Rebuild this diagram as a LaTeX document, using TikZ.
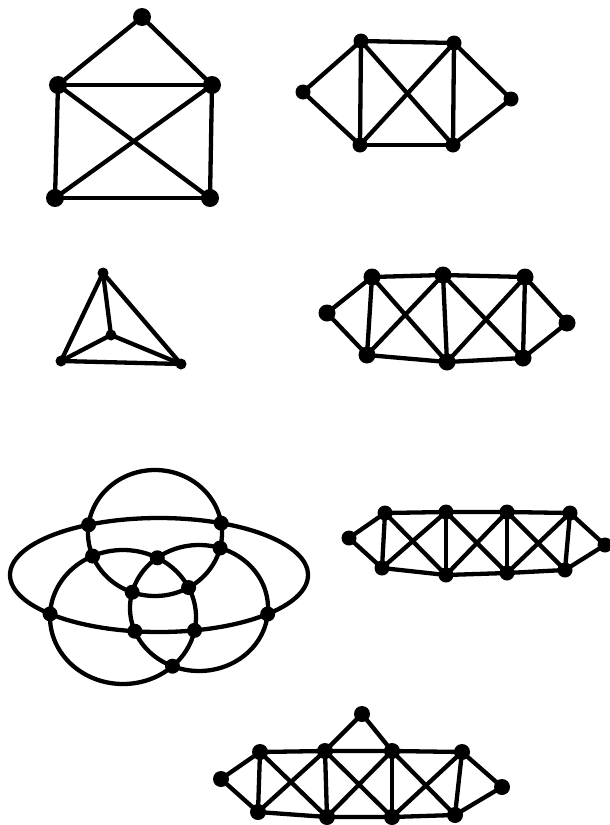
\documentclass[tikz,border=0pt]{standalone}
\usetikzlibrary{intersections}

\tikzset{
  vtx/.style={circle, fill, inner sep=0pt, minimum size=#1},
  vtx/.default=15pt
}

\begin{document}
\begin{tikzpicture}[x=1pt, y=-1pt, line width=4.3pt, line cap=round, line join=round]
    \useasboundingbox (0,0) rectangle (610,825);

    % House
    \node[vtx=18pt] (a-t)  at (142,17)  {};
    \node[vtx=18pt] (a-ul) at (58,85)   {};
    \node[vtx=18pt] (a-ur) at (212,85)  {};
    \node[vtx=18pt] (a-ll) at (55,198)  {};
    \node[vtx=18pt] (a-lr) at (210,198) {};
    \foreach \a/\b in {t/ul, t/ur, ul/ur, ul/ll, ur/lr, ll/lr, ul/lr, ur/ll}
        \draw (a-\a.center) -- (a-\b.center);

    % Two triangles around a square
    \node[vtx] (b-l)  at (303,92)  {};
    \node[vtx] (b-ul) at (361,41)  {};
    \node[vtx] (b-ur) at (454,43)  {};
    \node[vtx] (b-ll) at (360,145) {};
    \node[vtx] (b-lr) at (453,145) {};
    \node[vtx] (b-r)  at (511,99)  {};
    \foreach \a/\b in {l/ul, l/ll, ul/ur, ul/ll, ul/lr, ur/ll, ur/lr, ll/lr, ur/r, lr/r}
        \draw (b-\a.center) -- (b-\b.center);

    % Tetrahedron
    \node[vtx=11pt] (c-t) at (103,273) {};
    \node[vtx=11pt] (c-m) at (111,335) {};
    \node[vtx=11pt] (c-l) at (61,361)  {};
    \node[vtx=11pt] (c-r) at (181,364) {};
    \foreach \a/\b in {t/m, t/l, t/r, m/l, m/r, l/r}
        \draw (c-\a.center) -- (c-\b.center);

    % Two squares
    \node[vtx=17pt] (d-l)  at (327,313) {};
    \node[vtx=17pt] (d-u1) at (372,277) {};
    \node[vtx=17pt] (d-u2) at (443,275) {};
    \node[vtx=17pt] (d-u3) at (525,277) {};
    \node[vtx=17pt] (d-r)  at (567,323) {};
    \node[vtx=17pt] (d-l1) at (367,355) {};
    \node[vtx=17pt] (d-l2) at (447,362) {};
    \node[vtx=17pt] (d-l3) at (523,358) {};
    \foreach \a/\b in {l/u1, l/l1, u3/r, l3/r}
        \draw (d-\a.center) -- (d-\b.center);
    \foreach \i/\j in {1/2, 2/3}
        \draw (d-u\i.center) -- (d-u\j.center) (d-l\i.center) -- (d-l\j.center)
              (d-u\i.center) -- (d-l\j.center) (d-l\i.center) -- (d-u\j.center);
    \foreach \i in {1,2,3}
        \draw (d-u\i.center) -- (d-l\i.center);

    % Three squares
    \node[vtx] (e-l)  at (349,538) {};
    \node[vtx] (e-u1) at (385,513) {};
    \node[vtx] (e-u2) at (446,512) {};
    \node[vtx] (e-u3) at (507,512) {};
    \node[vtx] (e-u4) at (570,513) {};
    \node[vtx] (e-r)  at (605,545) {};
    \node[vtx] (e-l1) at (382,568) {};
    \node[vtx] (e-l2) at (446,575) {};
    \node[vtx] (e-l3) at (507,573) {};
    \node[vtx] (e-l4) at (565,570) {};
    \foreach \a/\b in {l/u1, l/l1, u4/r, l4/r}
        \draw (e-\a.center) -- (e-\b.center);
    \foreach \i/\j in {1/2, 2/3, 3/4}
        \draw (e-u\i.center) -- (e-u\j.center) (e-l\i.center) -- (e-l\j.center)
              (e-u\i.center) -- (e-l\j.center) (e-l\i.center) -- (e-u\j.center);
    \foreach \i in {1,...,4}
        \draw (e-u\i.center) -- (e-l\i.center);

    % Circles and ellipse
    \draw[name path=ell] (159,575) ellipse [x radius=149pt, y radius=57pt];
    \draw[name path=top] (155,533) ellipse [x radius=67pt, y radius=63pt];
    \draw[name path=lft] (123,617) ellipse [x radius=73pt, y radius=67pt];
    \draw[name path=rgt] (199,608) ellipse [x radius=69pt, y radius=63pt];
    \path[name intersections={of=ell and top, by={p1,p2}}];
    \path[name intersections={of=ell and lft, by={p3,p4}}];
    \path[name intersections={of=ell and rgt, by={p5,p6}}];
    \path[name intersections={of=top and lft, by={p7,p8}}];
    \path[name intersections={of=top and rgt, by={p9,p10}}];
    \path[name intersections={of=lft and rgt, by={p11,p12}}];
    \foreach \p in {1,...,12}
        \node[vtx] (f-\p) at (p\p) {};

    % Three squares with a roof
    \node[vtx=16pt] (g-a)  at (362,714) {};
    \node[vtx=16pt] (g-l)  at (221,779) {};
    \node[vtx=16pt] (g-u1) at (260,752) {};
    \node[vtx=16pt] (g-u2) at (325,751) {};
    \node[vtx=16pt] (g-u3) at (392,751) {};
    \node[vtx=16pt] (g-u4) at (462,752) {};
    \node[vtx=16pt] (g-r)  at (502,787) {};
    \node[vtx=16pt] (g-l1) at (258,812) {};
    \node[vtx=16pt] (g-l2) at (327,817) {};
    \node[vtx=16pt] (g-l3) at (392,817) {};
    \node[vtx=16pt] (g-l4) at (455,815) {};
    \foreach \a/\b in {a/u2, a/u3, l/u1, l/l1, u4/r, l4/r}
        \draw (g-\a.center) -- (g-\b.center);
    \foreach \i/\j in {1/2, 2/3, 3/4}
        \draw (g-u\i.center) -- (g-u\j.center) (g-l\i.center) -- (g-l\j.center)
              (g-u\i.center) -- (g-l\j.center) (g-l\i.center) -- (g-u\j.center);
    \foreach \i in {1,...,4}
        \draw (g-u\i.center) -- (g-l\i.center);
\end{tikzpicture}
\end{document}
